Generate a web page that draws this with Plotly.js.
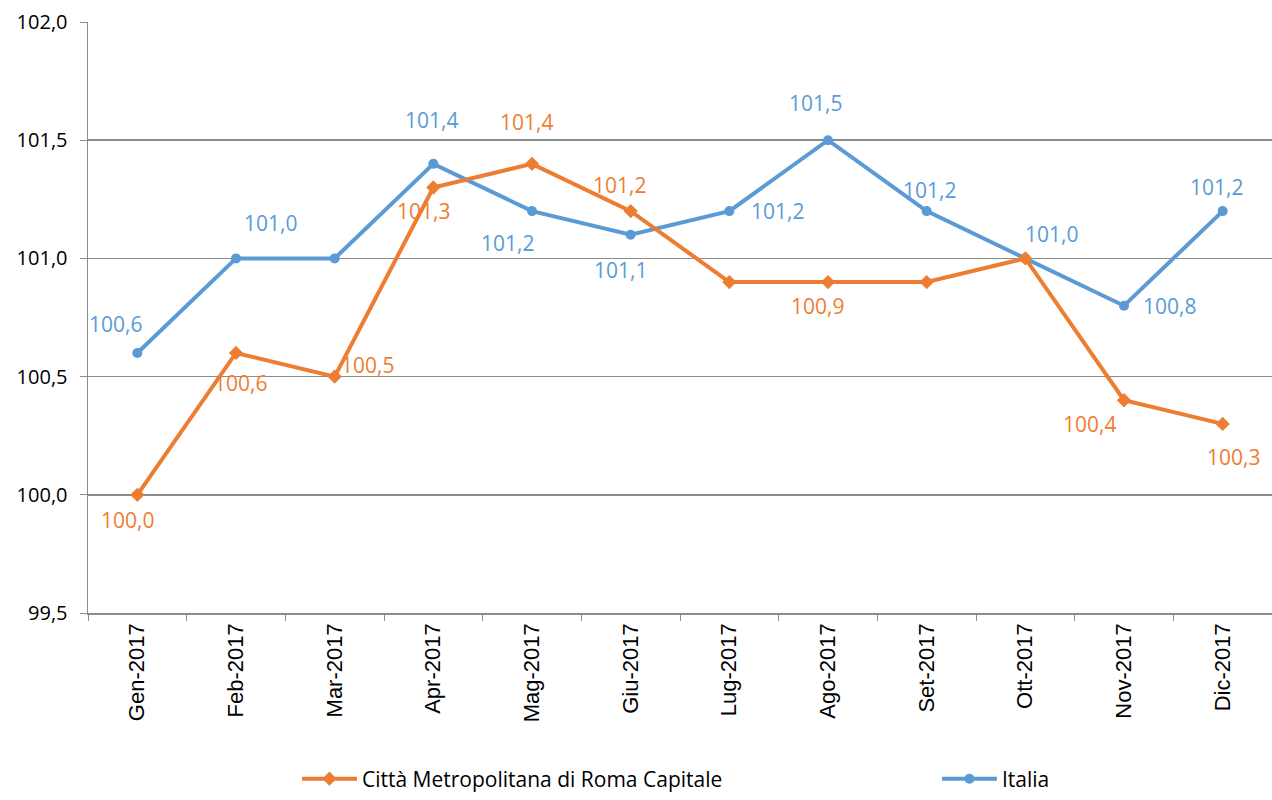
<!DOCTYPE html>
<html>
<head>
<meta charset="utf-8">
<script src="https://cdn.plot.ly/plotly-3.0.1.min.js"></script>
<style>html,body{margin:0;padding:0;background:#fff}#chart{width:1272px;height:800px}</style>
</head>
<body>
<div id="chart"></div>
<script>
const months = ["Gen-2017","Feb-2017","Mar-2017","Apr-2017","Mag-2017","Giu-2017","Lug-2017","Ago-2017","Set-2017","Ott-2017","Nov-2017","Dic-2017"];
const roma = [100.0,100.6,100.5,101.3,101.4,101.2,100.9,100.9,100.9,101.0,100.4,100.3];
const italia = [100.6,101.0,101.0,101.4,101.2,101.1,101.2,101.5,101.2,101.0,100.8,101.2];
const romaName = "Città Metropolitana di Roma Capitale";
const italiaName = "Italia";
// which points show a data label
const romaShow = [1,1,1,1,1,1,0,1,0,0,1,1];
const italiaShow = [1,1,0,1,1,1,1,1,1,1,1,1];

// label offsets (styling only)
const romaOff = [[-10,25],[4,30],[33,-12],[-10,24],[-6,-42],[-11,-26],[0,0],[-11,24],[0,0],[0,0],[-35,24],[11,33]];
const italiaOff = [[-22,-29],[34,-35],[0,0],[-2,-44],[-25,32],[-10,35],[48,0],[-13,-37],[3,-21],[26,-24],[45,0],[-6,-24]];

const ORANGE = "#ED7D31", BLUE = "#5B9BD5";
const fmt = v => v.toFixed(1).replace(".", ",");

const annotations = [];
function addLabels(vals, show, off, color){
  vals.forEach((v,i)=>{
    if(!show[i]) return;
    annotations.push({x: months[i], y: v, text: fmt(v), showarrow:false,
      xshift: off[i][0], yshift: -off[i][1],
      font:{family:"Open Sans, sans-serif", size:21, color:color}});
  });
}
addLabels(italia, italiaShow, italiaOff, BLUE);
addLabels(roma, romaShow, romaOff, ORANGE);

const traces = [
  {x: months, y: italia, name: italiaName, type:"scatter", mode:"lines+markers",
   line:{color:BLUE, width:4}, marker:{symbol:"circle", size:10, color:BLUE}, legend:"legend2"},
  {x: months, y: roma, name: romaName, type:"scatter", mode:"lines+markers",
   line:{color:ORANGE, width:4}, marker:{symbol:"diamond", size:11, color:ORANGE}, legend:"legend"}
];

const legFont = {family:"Open Sans, sans-serif", size:21, color:"#000"};
const layout = {
  width:1272, height:800,
  margin:{l:88, r:0, t:22, b:185},
  paper_bgcolor:"#fff", plot_bgcolor:"#fff",
  separators:",.",
  showlegend:true,
  legend:{orientation:"h", x:0.1765, xanchor:"left", y:-0.281, yanchor:"middle",
    font:legFont, itemwidth:55, bgcolor:"rgba(0,0,0,0)"},
  legend2:{orientation:"h", x:0.717, xanchor:"left", y:-0.281, yanchor:"middle",
    font:legFont, itemwidth:55, bgcolor:"rgba(0,0,0,0)"},
  xaxis:{type:"category", range:[-0.5,11.5], tickangle:-90, tickson:"boundaries", ticks:"outside", ticklen:6,
    tickcolor:"#8c8c8c", showline:true, linecolor:"#8c8c8c", linewidth:1.5, showgrid:false,
    tickfont:{family:"Liberation Sans, Arial, sans-serif", size:22, color:"#000"}, fixedrange:true},
  yaxis:{range:[99.5,102.0], dtick:0.5, tickformat:".1f", ticks:"outside", ticklen:7,
    tickcolor:"#8c8c8c", showline:true, linecolor:"#8c8c8c", linewidth:1.5,
    showgrid:true, gridcolor:"#8c8c8c", gridwidth:1.5, zeroline:false, ticklabelstandoff:8,
    tickfont:{family:"Open Sans, sans-serif", size:20, color:"#000"}, fixedrange:true},
  annotations: annotations
};
Plotly.newPlot("chart", traces, layout, {displayModeBar:false, staticPlot:true});
</script>
</body>
</html>
